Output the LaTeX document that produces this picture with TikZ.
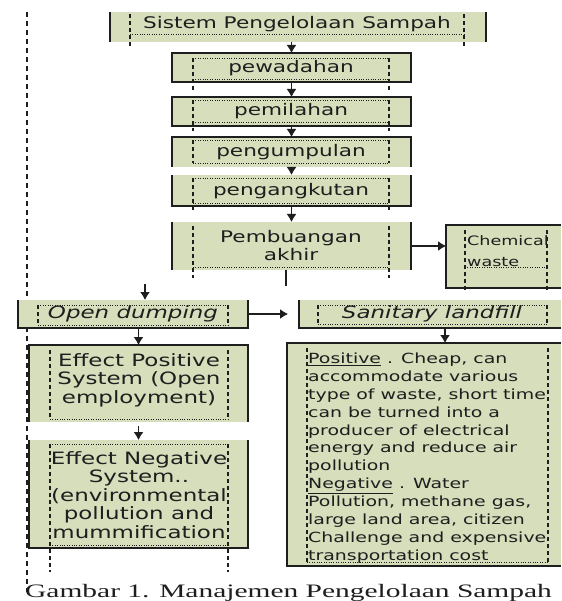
\documentclass[tikz,border=0pt]{standalone}
\usepackage{fontspec}
\usetikzlibrary{arrows.meta,fit}
\newfontfamily\bxf[FakeStretch=1.35]{DejaVu Sans}
\newfontfamily\capf[FakeStretch=1.55]{Liberation Serif}
\definecolor{boxgreen}{RGB}{214,222,188}
\definecolor{ink}{RGB}{30,30,30}
\newcommand\txfr[5]{%
  \draw[framedash] (#1,#2) -- (#1,#5) (#3,#2) -- (#3,#5);
  \draw[framedot] (#1,#2) -- (#3,#2) (#1,#4) -- (#3,#4);}
\begin{document}
\begin{tikzpicture}[x=1pt,y=-1pt,
  fillbox/.style={fill=boxgreen, draw=none, inner sep=0pt, outer sep=0pt},
  solidline/.style={line width=1.4pt, ink},
  framedash/.style={line width=1.1pt, dash pattern=on 4pt off 3pt, ink},
  framedot/.style={line width=0.9pt, dash pattern=on 1pt off 1.4pt, ink},
  arr/.style={line width=1.3pt, ink, -{Latex[length=8pt,width=10pt]}},
  plain/.style={line width=1.3pt, ink},
  lbl/.style={text=ink, align=center, inner sep=0pt},
  sz16/.style={font=\bxf\fontsize{16}{18}\selectfont},
  sz17/.style={font=\bxf\itshape\fontsize{17}{19}\selectfont},
  sz18/.style={font=\bxf\fontsize{17}{18.5}\selectfont}
]
\useasboundingbox (0,0) rectangle (561,601);
\fill[white] (0,0) rectangle (561,601);

% long dashed guide line
\draw[line width=1.4pt, dash pattern=on 5pt off 4pt, ink] (27,12) -- (27,592);

% ---- green boxes
\node[fillbox, fit={(110,12) (486,42)}] (T) {};
\node[fillbox, fit={(172,53) (411,82)}] (pw) {};
\node[fillbox, fit={(172,97) (411,126)}] (pm) {};
\node[fillbox, fit={(172,137) (411,167)}] (pg) {};
\node[fillbox, fit={(172,175) (411,206)}] (pa) {};
\node[fillbox, fit={(172,222) (411,270)}] (pb) {};
\node[fillbox, fit={(446,225) (561,288)}] (ch) {};
\node[fillbox, fit={(18,300) (248,328)}] (od) {};
\node[fillbox, fit={(299,300) (561,328)}] (sl) {};
\node[fillbox, fit={(29,345) (248,422)}] (ep) {};
\node[fillbox, fit={(29,440) (248,548)}] (en) {};
\node[fillbox, fit={(287,343) (561,566)}] (bb) {};

% ---- solid borders
\draw[solidline] (T.north west) -- (T.south west) (T.north east) -- (T.south east);
\draw[solidline] (pw.north west) rectangle (pw.south east);
\draw[solidline] (pm.north west) rectangle (pm.south east);
\draw[solidline] (pg.south west) -- (pg.north west) -- (pg.north east) -- (pg.south east);
\draw[solidline] (pa.north west) -- (pa.south west) -- (pa.south east) -- (pa.north east);
\draw[solidline] (pb.north west) -- (pb.south west) (pb.north east) -- (pb.south east);
\draw[solidline] (ch.north east) -- (ch.north west) -- (ch.south west) -- (ch.south east);
\draw[solidline] (od.north west) -- (od.south west) -- (od.south east) -- (od.north east);
\draw[solidline] (sl.north west) -- (sl.south west) -- (sl.south east);
\draw[solidline] (ep.south west) -- (ep.north west) -- (ep.north east) -- (ep.south east);
\draw[solidline] (en.north west) -- (en.south west) -- (en.south east) -- (en.north east);
\draw[solidline] (bb.north east) -- (bb.north west) -- (bb.south west) -- (bb.south east);

% ---- inner text frames
\draw[framedash] (130,14) -- (130,47) (464,14) -- (464,47);
\draw[framedot] (130,34) -- (464,34);
\txfr{193}{58}{389}{79}{90}
\txfr{193}{100}{389}{122}{131}
\txfr{193}{140}{389}{163}{163}
\txfr{193}{178}{389}{203}{212}
\draw[framedash] (193,226) -- (193,278) (389,226) -- (389,278);
\draw[framedot] (193,267) -- (389,267);
\draw[framedash] (465,230) -- (465,290) (547,230) -- (547,290);
\draw[framedot] (465,267) -- (547,267);
\txfr{38}{305}{228}{325}{325}
\txfr{318}{305}{547}{324}{324}
\draw[framedash] (50,350) -- (50,419) (228,350) -- (228,419);
\draw[framedot] (50,419) -- (228,419);
\txfr{50}{444}{228}{545}{572}
\draw[framedash] (307,348) -- (307,562) (548,348) -- (548,562);
\draw[framedot] (307,562) -- (548,562);

% ---- texts
\node[lbl, sz16] (Tt) at (297,24) {Sistem Pengelolaan Sampah};
\node[lbl, sz16] (pwt) at (291,68) {pewadahan};
\node[lbl, sz16] (pmt) at (291,111) {pemilahan};
\node[lbl, sz16] (pgt) at (291,152) {pengumpulan};
\node[lbl, sz16] (pat) at (291,191) {pengangkutan};
\node[lbl, sz16] (pbt) at (291,246) {Pembuangan\\akhir};
\node[lbl, font=\bxf\fontsize{13}{21}\selectfont, align=left, anchor=west] (cht) at (467,251) {Chemical\\waste};
\node[lbl, sz17] (odt) at (133,314) {Open dumping};
\node[lbl, sz17] (slt) at (432,314) {Sanitary landfill};
\node[lbl, sz18] (ept) at (139,380) {Effect Positive\\System (Open\\employment)};
\node[lbl, sz18] (ent) at (139,495) {Effect Negative\\System..\\(environmental\\pollution and\\mummification};
\node[lbl, font=\bxf\fontsize{14}{17.9}\selectfont, align=left, anchor=west] (bbt) at (308,458)
 {\underline{Positive} . Cheap, can\\accommodate various\\type of waste, short time\\can be turned into a\\producer of electrical\\energy and reduce air\\pollution\\\underline{Negative} . Water\\Pollution, methane gas,\\large land area, citizen\\Challenge and expensive\\transportation cost};

% ---- connectors
\draw[arr] (T.south -| pw.north) -- (pw.north);
\draw[arr] (pw.south) -- (pm.north);
\draw[arr] (pm.south) -- (pg.north);
\draw[arr] (pg.south) -- (pa.north);
\draw[arr] (pa.south) -- (pb.north);
\draw[arr] (pb.east |- 0,246) -- (ch.west |- 0,246);
\coordinate (pbdown) at (286,286);
\coordinate (oddrop) at (145,284);
\draw[plain] (pb.south -| pbdown) -- (pbdown);
\draw[arr] (oddrop) -- (od.north -| oddrop);
\draw[arr] (od.east |- 0,314) -- (288,314);
\draw[arr] (od.south -| ep.north) -- (ep.north);
\draw[arr] (ep.north |- 0,426) -- (en.north);
\draw[arr] (sl.south -| 445,0) -- (bb.north -| 445,0);

% ---- caption
\node[text=ink, anchor=base west, inner sep=0pt, font=\capf\fontsize{19}{21}\selectfont] (cap) at (25,597) {Gambar 1. Manajemen Pengelolaan Sampah};
\end{tikzpicture}
\end{document}
